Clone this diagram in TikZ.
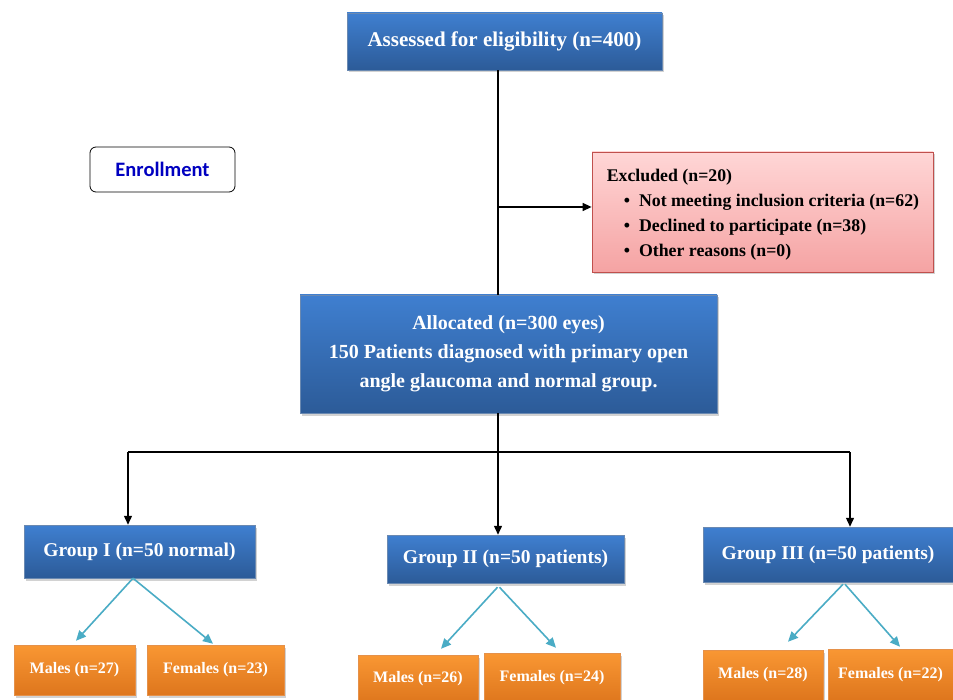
\documentclass[tikz,border=0pt]{standalone}
\usepackage{fontspec}
\setmainfont{Liberation Serif}
\newfontfamily\calfont{Carlito}
\usetikzlibrary{arrows.meta,shadows}
\definecolor{blueT}{HTML}{3F7FD0}
\definecolor{blueB}{HTML}{2C5B98}
\definecolor{blueD}{HTML}{2A5790}
\definecolor{orT}{HTML}{F99733}
\definecolor{orB}{HTML}{DE761D}
\definecolor{pkT}{HTML}{FFD6D6}
\definecolor{pkB}{HTML}{F5A3A3}
\definecolor{pkD}{HTML}{C0504D}
\definecolor{teal}{HTML}{4AACC5}
\definecolor{enrl}{HTML}{0000C0}
\tikzset{
  shad/.style={drop shadow={opacity=0.35,shadow xshift=2pt,shadow yshift=-2.5pt}},
  bluebox/.style={shad,draw=blueD!70,line width=0.5pt,top color=blueT,bottom color=blueB,
    text=white,font=\bfseries,inner sep=0pt,align=center},
  orbox/.style={shad,draw=orB!80,line width=0.5pt,top color=orT,bottom color=orB,
    text=white,font=\bfseries\fontsize{16}{19}\selectfont,inner sep=0pt,align=center},
  blk/.style={line width=1.4pt,black},
  blkarr/.style={blk,-{Triangle[length=9pt,width=8pt]}},
  tarr/.style={line width=1.6pt,teal,-{Triangle[length=10pt,width=9pt]}},
}
\begin{document}
\begin{tikzpicture}[x=1pt,y=-1pt]
\useasboundingbox[fill=white] (0,0) rectangle (953,700);
% boxes
\node[bluebox,minimum width=315pt,minimum height=57pt,font=\bfseries\fontsize{21}{24}\selectfont] (A) at (504.5,41.5) {Assessed for eligibility (n=400)};
\node[draw=black,line width=0.8pt,rounded corners=6pt,fill=white,minimum width=145pt,minimum height=45pt,
  text=enrl,font=\calfont\bfseries\fontsize{20.5}{24}\selectfont] (En) at (162.5,169.5) {Enrollment};
\node[shad,draw=pkD,line width=0.8pt,top color=pkT,bottom color=pkB,minimum width=341pt,minimum height=120pt,
  inner sep=0pt] (E) at (762.5,212) {};
\node[anchor=north west,inner sep=0pt,align=left,font=\bfseries\fontsize{17.8}{25}\selectfont] (Et) at ([xshift=15pt,yshift=-17pt]E.north west)
  {Excluded (n=20)\\
  \hspace{17pt}\textbullet\hspace{9pt}Not meeting inclusion criteria (n=62)\\
  \hspace{17pt}\textbullet\hspace{9pt}Declined to participate (n=38)\\
  \hspace{17pt}\textbullet\hspace{9pt}Other reasons (n=0)};
\node[bluebox,minimum width=417pt,minimum height=118pt,font=\bfseries\fontsize{20}{29}\selectfont] (Al) at (508.5,354)
  {Allocated (n=300 eyes)\\150 Patients diagnosed with primary open\\angle glaucoma and normal group.};
\node[bluebox,minimum width=231pt,minimum height=53pt,font=\bfseries\fontsize{19.5}{22}\selectfont] (G1) at (139.5,551.5) {Group I (n=50 normal)};
\node[bluebox,minimum width=237pt,minimum height=48pt,font=\bfseries\fontsize{19.5}{22}\selectfont] (G2) at (505.5,559) {Group II (n=50 patients)};
\node[bluebox,minimum width=250pt,minimum height=55pt,font=\bfseries\fontsize{19.5}{22}\selectfont] (G3) at (828,554.5) {Group III (n=50 patients)};
\node[orbox,minimum width=121pt,minimum height=50pt] (M1) at (74.5,670) {Males (n=27)};
\node[orbox,minimum width=137pt,minimum height=50pt] (F1) at (215.5,670) {Females (n=23)};
\node[orbox,minimum width=120pt,minimum height=48pt] (M2) at (418,679) {Males (n=26)};
\node[orbox,minimum width=136pt,minimum height=50pt] (F2) at (552,678) {Females (n=24)};
\node[orbox,minimum width=120pt,minimum height=50pt] (M3) at (763,675) {Males (n=28)};
\node[orbox,minimum width=125pt,minimum height=51pt] (F3) at (890.5,674.5) {Females (n=22)};
% trunk
\coordinate (j1) at (498,207);
\coordinate (tr) at (498,452);
\coordinate (b1) at (128,452);
\coordinate (b3) at (850,452);
\draw[blk] (j1 |- A.south) -- (j1 |- Al.north);
\draw[blkarr] (j1) -- (j1 -| E.west);
\draw[blk] (tr |- Al.south) -- (tr);
\draw[blk] (b1) -- (b3);
\draw[blkarr] (b1) -- (b1 |- G1.north);
\draw[blkarr] (tr) -- (tr |- G2.north);
\draw[blkarr] (b3) -- (b3 |- G3.north);
% teal arrows
\draw[tarr] ([xshift=-6.5pt]G1.south) -- ([xshift=1.5pt,yshift=4pt]M1.north);
\draw[tarr] ([xshift=-6.5pt]G1.south) -- ([xshift=-2.5pt,yshift=1pt]F1.north);
\draw[tarr] ([xshift=-8pt,yshift=-4pt]G2.south) -- ([xshift=23pt,yshift=6pt]M2.north);
\draw[tarr] ([xshift=-6pt,yshift=-4pt]G2.south) -- ([xshift=4pt,yshift=5pt]F2.north);
\draw[tarr] ([xshift=15pt,yshift=-2pt]G3.south) -- ([xshift=25pt,yshift=8pt]M3.north);
\draw[tarr] ([xshift=17pt,yshift=-2pt]G3.south) -- ([xshift=9.5pt,yshift=2pt]F3.north);
\end{tikzpicture}
\end{document}
